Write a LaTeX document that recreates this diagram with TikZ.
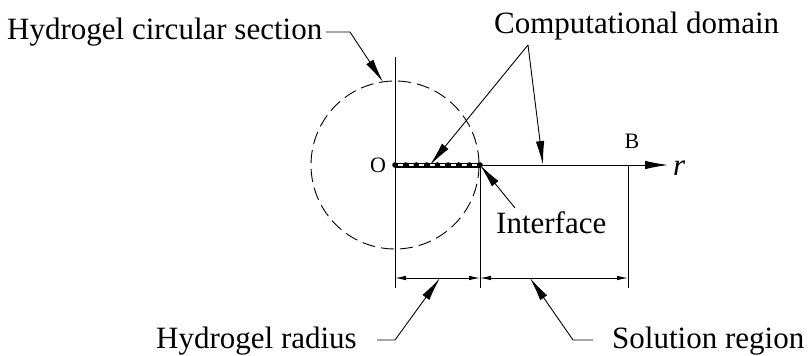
\documentclass[tikz,border=0pt]{standalone}
\usepackage{fontspec}
\setmainfont{Liberation Serif}
\usetikzlibrary{arrows.meta,calc}
\begin{document}
\begin{tikzpicture}[x=1pt,y=-1pt,
  thin line/.style={line width=0.9pt},
  leader/.style={thin line,-{Latex[length=24pt,width=8.5pt]}},
  dimarrow/.style={thin line,{Latex[length=11pt,width=4.5pt]}-{Latex[length=11pt,width=4.5pt]}},
  lbl/.style={font=\fontsize{31}{35}\selectfont,inner sep=0pt},
  small/.style={font=\fontsize{22}{26}\selectfont,inner sep=0pt}]
\useasboundingbox (0,0) rectangle (809,356);
% key points
\coordinate (O) at (395,165);
\coordinate (I) at (480,165);
\coordinate (Bp) at (628,165);
\coordinate (Aend) at (668,165);
\coordinate (Otop) at (395,57);
\coordinate (Obot) at (395,288);
\coordinate (Ibot) at (480,288);
\coordinate (Bbot) at (628,288);
\coordinate (D1) at (395,278);
\coordinate (D2) at (480,278);
\coordinate (D3) at (628,278);
% circle
\draw[thin line,dash pattern=on 13pt off 6pt] (O) circle (84);
% axes and extension lines
\draw[thin line] (Otop) -- (Obot);
\draw[thin line] (I) -- (Ibot);
\draw[thin line] (Bp) -- (Bbot);
\draw[thin line,-{Latex[length=23pt,width=8.5pt]}] (O) -- (Aend);
% hatched segment
\draw[line width=5pt] (O) -- (I);
\draw[white,line width=1.8pt,dash pattern=on 5pt off 5.6pt] ([xshift=3pt]O) -- (I);
\foreach \i in {0,...,8} \fill ($(O)!\i/8!(I)$) circle (2.8);
% dimension lines
\draw[dimarrow] (D1) -- (D2);
\draw[dimarrow] (D2) -- (D3);
% labels
\node[small] (lO) at (378,165) {O};
\node[small] (lB) at (632,141) {B};
\node[lbl,anchor=base west] (lr) at (673,175) {\itshape r};
\node[lbl,anchor=base west] (hcs) at (7,39) {Hydrogel circular section};
\node[lbl,anchor=base west] (cd) at (494,33) {Computational domain};
\node[lbl,anchor=base west] (itf) at (496,233) {Interface};
\node[lbl,anchor=base west] (hr) at (156,348) {Hydrogel radius};
\node[lbl,anchor=base west] (sr) at (612,348) {Solution region};
% leader points
\coordinate (c1) at (326,32);
\coordinate (c2) at (350,32);
\coordinate (t1) at (383,82);
\coordinate (cdk) at (528,45);
\coordinate (t2) at (430,165);
\coordinate (t3) at (543,165);
\coordinate (ik) at (515,208);
\coordinate (h1) at (377,340);
\coordinate (h2) at (395,340);
\coordinate (ht) at (440,278);
\coordinate (s1) at (593,340);
\coordinate (s2) at (573,340);
\coordinate (st) at (530,278);
\draw[leader] (c1) -- (c2) -- (t1);
\draw[leader] (cdk) -- (t2);
\draw[leader] (cdk) -- (t3);
\draw[leader] (ik) -- (I);
\draw[leader] (h1) -- (h2) -- (ht);
\draw[leader] (s1) -- (s2) -- (st);
\end{tikzpicture}
\end{document}
